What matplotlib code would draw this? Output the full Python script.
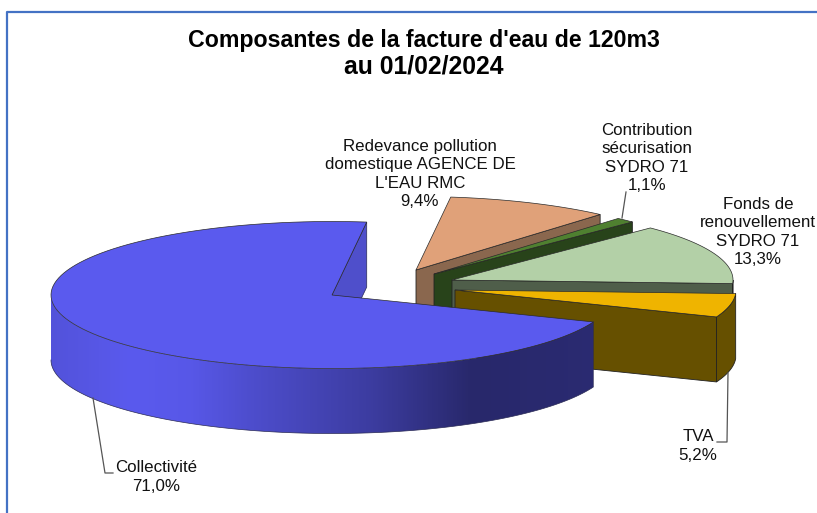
import numpy as np
import matplotlib
matplotlib.use('Agg')
import matplotlib.pyplot as plt
from matplotlib.colors import to_rgb
from matplotlib.patches import Polygon

plt.rcParams['font.family'] = ['Liberation Sans', 'DejaVu Sans']

# data
labels = ['Collectivité', "Redevance pollution\ndomestique AGENCE DE\nL'EAU RMC",
          'Contribution\nsécurisation\nSYDRO 71', 'Fonds de\nrenouvellement\nSYDRO 71', 'TVA']
shares = [71.0, 9.4, 1.1, 13.3, 5.2]
top_colors = ['#5A5AEE', '#E0A179', '#4F8030', '#B3D0A7', '#EFB400']
side_colors = ['#28286B', '#8A674E', '#28431A', '#4F5E4A', '#665000']

# pie geometry, in pixels of the picture
rx, ry = 281.0, 73.5
depth = 65.0
start = 111.5   # clockwise from the top, where Collectivité begins
apex_x = [332, 416, 434, 452, 455]
apex_y = [295, 270, 274, 280, 290]


def rim(cx, cy, a0, a1):
    t = np.radians(np.linspace(a0, a1, 120))
    return cx + rx*np.sin(t), cy - ry*np.cos(t)


fig = plt.figure(figsize=(8.17, 5.13), dpi=100)
ax = fig.add_axes([0, 0, 1, 1])

# frame of the sheet
ax.plot([7, 7, 817], [513, 12, 12], color='#4472C4', lw=1.6, zorder=1)

sweeps = [s*3.6 for s in shares]
starts = [start + sum(sweeps[:i]) for i in range(len(shares))]
order = [1, 2, 3, 4, 0]  # slices at the back first, Collectivité last

for i in order:
    cx, cy = apex_x[i], apex_y[i]
    a0, a1 = starts[i], starts[i] + sweeps[i]
    x, y = rim(cx, cy, a0, a1)
    z = 10 + order.index(i)*3

    if i == 0:
        # inner cut face seen in the notch
        ax.add_patch(Polygon([(cx, cy), (x[-1], y[-1]), (x[-1], y[-1]+depth), (cx, cy+depth)],
                             fc='#4F4FCB', ec='#2a2a55', lw=0.5, zorder=z))
        # outer side with its horizontal gradient
        xs, ys = rim(cx, cy, 270, a0)
        side = Polygon(np.r_[np.c_[xs, ys], np.c_[xs[::-1], ys[::-1]+depth]], fc='none', ec='none', zorder=z)
        ax.add_patch(side)
        grad = np.interp(np.linspace(51, 593, 256), [51, 130, 190, 250, 373, 473, 593],
                         [0.15, 0, 0.05, 0.25, 0.6, 1, 0.95])[:, None]
        c0, c1 = np.array(to_rgb(top_colors[0])), np.array(to_rgb(side_colors[0]))
        img = (c0[None, :]*(1-grad) + c1[None, :]*grad)[None, :, :]
        im = ax.imshow(img, extent=[51, 593, 513, 0], aspect='auto', zorder=z+0.5)
        im.set_clip_path(side)
        ax.plot(np.r_[xs, xs[-1]], np.r_[ys+depth, ys[-1]], color='#2a2a55', lw=0.5, zorder=z+0.6)
    else:
        # cut face towards the viewer, then the rim if it faces front
        ax.add_patch(Polygon([(cx, cy), (x[-1], y[-1]), (x[-1], y[-1]+depth), (cx, cy+depth)],
                             fc=side_colors[i], ec='#222222', lw=0.6, zorder=z))
        if 90 < a1 % 360 < 270:
            xr, yr = rim(cx, cy, max(a0 % 360, 90), a1 % 360)
            ax.add_patch(Polygon(np.r_[np.c_[xr, yr], np.c_[xr[::-1], yr[::-1]+depth]],
                                 fc=side_colors[i], ec='#222222', lw=0.6, zorder=z))
    ax.add_patch(Polygon(np.r_[[(cx, cy)], np.c_[x, y]], fc=top_colors[i], ec='#2a2a2a', lw=0.5,
                         zorder=z+1))

ax.set_xlim(0, 817)
ax.set_ylim(513, 0)
ax.axis('off')

# leaders
lead = dict(color='#555555', lw=0.9, zorder=40)
ax.plot([93, 105, 113], [398, 473, 473], **lead)
ax.plot([626, 622], [192, 218], **lead)
ax.plot([728, 727, 717], [373, 442, 442], **lead)

# labels
ax.text(424, 40, "Composantes de la facture d'eau de 120m3", fontsize=16.7, fontweight='bold',
        ha='center', va='center', color='black')
ax.text(424, 67, 'au 01/02/2024', fontsize=17.8, fontweight='bold', ha='center', va='center', color='black')

txt = dict(fontsize=12.2, ha='center', va='center', color='#111111', linespacing=1.3)
pcts = [f'{s:.1f}%'.replace('.', ',') for s in shares]
ax.text(156, 477, labels[0] + '\n' + pcts[0], **txt)
ax.text(420, 174, labels[1] + '\n' + pcts[1], **txt)
ax.text(647, 158, labels[2] + '\n' + pcts[2], **txt)
ax.text(758, 232, labels[3] + '\n' + pcts[3], **txt)
ax.text(698, 446, labels[4] + '\n' + pcts[4], **txt)

fig.savefig('out.png', dpi=100)
